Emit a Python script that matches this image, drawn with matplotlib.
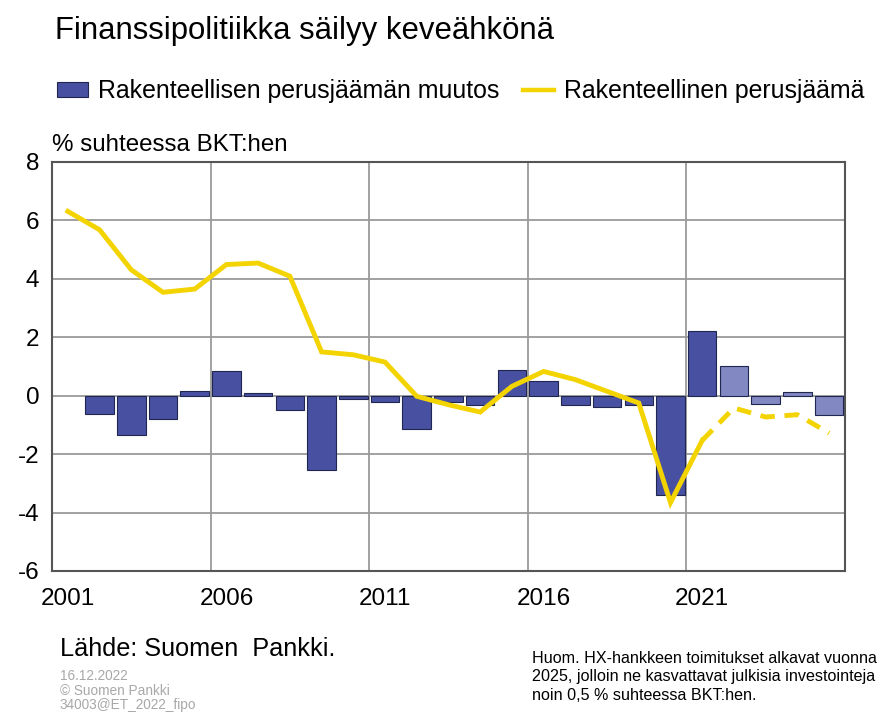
"""Finanssipolitiikka säilyy keveähkönä -- bar + line chart"""

import matplotlib
matplotlib.use('Agg')
import matplotlib.pyplot as plt
from matplotlib.patches import Patch
from matplotlib.lines import Line2D
import numpy

YEARS = list(range(2001, 2026))
# Rakenteellisen perusjäämän muutos (no bar for 2001)
BAR_YEARS = list(range(2002, 2026))
BAR_VALUES = [-0.63, -1.34, -0.79, 0.15, 0.83, 0.08, -0.50, -2.53, -0.11,
              -0.23, -1.13, -0.23, -0.31, 0.87, 0.49, -0.33, -0.40, -0.31,
              -3.41, 2.23, 1.03, -0.27, 0.13, -0.65]
FORECAST_FROM = 2022
# Rakenteellinen perusjäämä
LINE_VALUES = [6.31, 5.68, 4.31, 3.54, 3.65, 4.49, 4.54, 4.09, 1.50, 1.40,
               1.15, -0.02, -0.31, -0.56, 0.32, 0.83, 0.55, 0.15, -0.25,
               -3.66, -1.53, -0.42, -0.73, -0.65, -1.28]
LAST_ACTUAL = 2021
XTICK_YEARS = [2001, 2006, 2011, 2016, 2021]

BAR_DARK = '#4851a1'
BAR_LIGHT = '#8188c2'
LINE_COLOR = '#f3d300'

plt.rcParams['font.family'] = ['Liberation Sans', 'DejaVu Sans']
plt.rcParams['axes.unicode_minus'] = False

fig = plt.figure(figsize=(8.93, 7.13), dpi=100)
ax = fig.add_axes([0.0582, 0.1992, 0.888, 0.5736])

bar_colors = [BAR_LIGHT if y >= FORECAST_FROM else BAR_DARK for y in BAR_YEARS]
ax.bar(BAR_YEARS, BAR_VALUES, width=0.9, color=bar_colors,
       edgecolor='#20264f', linewidth=0.8, zorder=3)

years = numpy.array(YEARS)
vals = numpy.array(LINE_VALUES)
solid = years <= LAST_ACTUAL
dashed = years >= LAST_ACTUAL
ax.plot(years[solid], vals[solid], color=LINE_COLOR, linewidth=3.5,
        solid_joinstyle='miter', zorder=4)
ax.plot(years[dashed], vals[dashed], color=LINE_COLOR, linewidth=3.5,
        linestyle=(0, (3, 2)), zorder=4)

ax.set_xlim(YEARS[0] - 0.5, YEARS[-1] + 0.5)
ax.set_ylim(-6, 8)
ax.set_yticks(range(-6, 9, 2))
ax.set_xticks(XTICK_YEARS)
ax.set_xticklabels([str(y) for y in XTICK_YEARS])
ax.set_xticks([y - 0.5 for y in XTICK_YEARS[1:]], minor=True)
ax.tick_params(which='both', length=0, labelsize=17.5, colors='black')
ax.tick_params(axis='x', pad=12)
ax.tick_params(axis='y', pad=9)
ax.grid(which='minor', axis='x', color='#9a9a9a', linewidth=1.3, zorder=1)
ax.grid(which='major', axis='y', color='#9a9a9a', linewidth=1.3, zorder=1)
for spine in ax.spines.values():
    spine.set_color('#555555')
    spine.set_linewidth(1.5)

fig.text(0.0615, 0.956, 'Finanssipolitiikka säilyy keveähkönä',
         fontsize=22.4, va='center', ha='left')

handles = [Patch(facecolor=BAR_DARK, edgecolor='#20264f', linewidth=0.8),
           Line2D([0], [0], color=LINE_COLOR, linewidth=3.2)]
fig.legend(handles, ['Rakenteellisen perusjäämän muutos',
                     'Rakenteellinen perusjäämä'],
           loc='center left', bbox_to_anchor=(0.064, 0.872), ncol=2,
           frameon=False, prop={'size': 17.9},
           handlelength=1.25, handleheight=0.55, handletextpad=0.4,
           columnspacing=0.95, borderaxespad=0, borderpad=0)

fig.text(0.0582, 0.796, '% suhteessa BKT:hen', fontsize=17.4, va='center')
fig.text(0.067, 0.09, 'Lähde: Suomen  Pankki.', fontsize=18.2, va='center')
fig.text(0.067, 0.031, '16.12.2022\n© Suomen Pankki\n34003@ET_2022_fipo',
         fontsize=9.8, color='#a8a8a8', va='center', linespacing=1.05)
fig.text(0.596, 0.051,
         'Huom. HX-hankkeen toimitukset alkavat vuonna\n'
         '2025, jolloin ne kasvattavat julkisia investointeja\n'
         'noin 0,5 % suhteessa BKT:hen.',
         fontsize=11.6, va='center', linespacing=1.3)

fig.savefig('out.png', dpi=100)
